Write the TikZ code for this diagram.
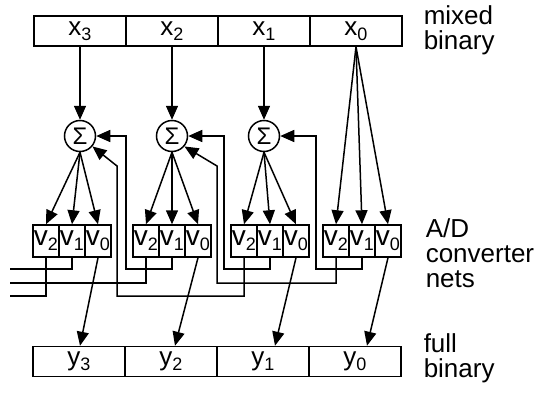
\documentclass[tikz,border=0pt]{standalone}
\usepackage{fontspec}
\setmainfont{Liberation Sans}
\usetikzlibrary{arrows.meta}
\newcommand{\sublbl}[2]{#1\raisebox{-5pt}{\fontsize{18}{18}\selectfont #2}}

\begin{document}
\begin{tikzpicture}[
  x=1pt, y=-1pt, line width=1.5pt,
  font=\fontsize{26}{25}\selectfont,
  cell/.style={draw, minimum width=92pt, minimum height=30pt, inner sep=0pt},
  vcell/.style={draw, minimum width=26pt, minimum height=32pt, inner sep=0pt,
                font=\fontsize{28}{28}\selectfont},
  sum/.style={draw, circle, minimum size=31pt, inner sep=0pt,
              font=\fontsize{24}{24}\selectfont},
  lbl/.style={anchor=north west, align=left, inner sep=0pt},
  arr/.style={-{Triangle[length=14pt, width=12pt]}}
]
  \useasboundingbox (0,0) rectangle (557,397);

  % mixed binary word
  \foreach \i/\x in {3/80, 2/172, 1/264, 0/356}
    \node[cell] (x\i) at (\x,31) {\sublbl{x}{\i}};
  \node[lbl] (mixedlbl) at (423,5) {mixed\\binary};

  % summing units
  \foreach \i/\x in {3/80, 2/172, 1/264}
    \node[sum] (s\i) at (\x,136) {Σ};

  % converter nets
  \foreach \g/\l in {3/33, 2/133, 1/231, 0/323}
    \foreach \b/\d in {2/13, 1/39, 0/65}
      \node[vcell] (v\g\b) at (\l+\d,241) {\sublbl{v}{\b}};
  \node[lbl] (adlbl) at (425,218) {A/D\\converter\\nets};

  % full binary word
  \foreach \i/\x in {3/79, 2/171, 1/263, 0/355}
    \node[cell] (y\i) at (\x,361.5) {\sublbl{y}{\i}};
  \node[lbl] (fulllbl) at (423,333) {full\\binary};

  % forward connections
  \foreach \i in {3,2,1} {
    \draw[arr] (x\i) -- (s\i);
    \foreach \b in {2,1,0} \draw[arr] (s\i.south) -- (v\i\b.north);
  }
  \foreach \b in {2,1,0} \draw[arr] (x0.south) -- (v0\b.north);
  \foreach \i/\s in {3/1, 2/4, 1/12, 0/12}
    \draw[arr] (v\i0.south) -- ([xshift=\s pt]y\i.north);

  % feedback to the summing units
  \draw[arr] (v21.south) |- (126,269) |- (s3.east);
  \draw[arr] (v12.south) |- (117,296) -- (117,166) -- (s3.-40);
  \draw[arr] (v11.south) |- (224,269) |- (s2.east);
  \draw[arr] (v02.south) |- (217,283) -- (217,166) -- (s2.-40);
  \draw[arr] (v01.south) |- (316,269) |- (s1.east);

  % lines leaving to the left
  \coordinate (outa) at (10,269);
  \coordinate (outb) at (10,283);
  \coordinate (outc) at (10,296);
  \draw (v31.south) |- (outa);
  \draw (v22.south) |- (outb);
  \draw (v32.south) |- (outc);
\end{tikzpicture}
\end{document}
